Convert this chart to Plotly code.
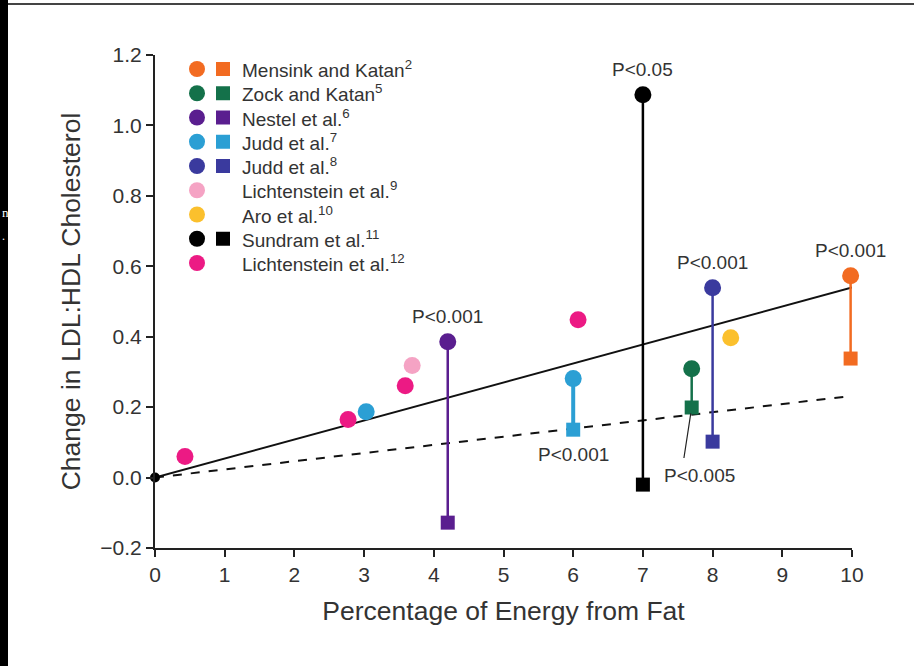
import plotly.graph_objects as go

# ---------------- data ----------------
study_names = ["Mensink and Katan", "Zock and Katan", "Nestel et al.", "Judd et al.",
               "Judd et al.", "Lichtenstein et al.", "Aro et al.", "Sundram et al.",
               "Lichtenstein et al."]
study_refs = ["2", "5", "6", "7", "8", "9", "10", "11", "12"]
study_colors = ["#f26b21", "#14714a", "#5a1e8f", "#2b9fd4", "#3a3a9e",
                "#f5a3c4", "#fbc02d", "#000000", "#ec1a84"]
has_square = [True, True, True, True, True, False, False, True, False]

# paired comparisons (circle = trans fat, square = comparison)
pair_study = [0, 1, 2, 3, 4, 7]
pair_x = [9.98, 7.7, 4.2, 6.0, 8.0, 7.0]
pair_circle_y = [0.573, 0.309, 0.386, 0.281, 0.539, 1.087]
pair_square_y = [0.338, 0.199, -0.128, 0.136, 0.102, -0.02]
pair_pvalue = ["P<0.001", "P<0.005", "P<0.001", "P<0.001", "P<0.001", "P<0.05"]

# single points
single_study = [3, 5, 6, 8, 8, 8, 8]
single_x = [3.03, 3.69, 8.26, 0.43, 2.77, 3.59, 6.07]
single_y = [0.187, 0.318, 0.397, 0.060, 0.165, 0.261, 0.448]

# regression lines
line_x = [0, 10]
solid_y = [0, 0.54]
dashed_y = [0, 0.232]

x_ticks = list(range(0, 11))
y_ticks = [-0.2, 0.0, 0.2, 0.4, 0.6, 0.8, 1.0, 1.2]

FONT = "Liberation Sans, Arial, sans-serif"
TXT = "#333333"

fig = go.Figure()

# regression lines
fig.add_trace(go.Scatter(x=line_x, y=dashed_y, mode="lines",
                         line=dict(color="#111111", width=2, dash="dash"),
                         hoverinfo="skip", showlegend=False, cliponaxis=False))
fig.add_trace(go.Scatter(x=line_x, y=solid_y, mode="lines",
                         line=dict(color="#111111", width=2),
                         hoverinfo="skip", showlegend=False, cliponaxis=False))

# paired vertical lines + markers
for i, s in enumerate(pair_study):
    c = study_colors[s]
    w = 4 if s == 3 else 2.5
    fig.add_trace(go.Scatter(x=[pair_x[i], pair_x[i]], y=[pair_circle_y[i], pair_square_y[i]],
                             mode="lines", line=dict(color=c, width=w),
                             showlegend=False, hoverinfo="skip", cliponaxis=False))
    fig.add_trace(go.Scatter(x=[pair_x[i]], y=[pair_square_y[i]], mode="markers",
                             marker=dict(symbol="square", size=14, color=c),
                             showlegend=False, cliponaxis=False))
    fig.add_trace(go.Scatter(x=[pair_x[i]], y=[pair_circle_y[i]], mode="markers",
                             marker=dict(symbol="circle", size=17, color=c),
                             showlegend=False, cliponaxis=False))

# single points
for s, x, y in zip(single_study, single_x, single_y):
    fig.add_trace(go.Scatter(x=[x], y=[y], mode="markers",
                             marker=dict(symbol="circle", size=17, color=study_colors[s]),
                             showlegend=False, cliponaxis=False))

# origin point
fig.add_trace(go.Scatter(x=[0], y=[0], mode="markers",
                         marker=dict(symbol="circle", size=10, color="#000000"),
                         showlegend=False, cliponaxis=False))

# P-value annotations
ann_font = dict(family=FONT, size=19, color=TXT)
for i, s in enumerate(pair_study):
    if s == 1:
        fig.add_annotation(x=pair_x[i], y=pair_square_y[i], xref="x", yref="y",
                           text="", showarrow=True, arrowhead=0, arrowwidth=1.2,
                           arrowcolor="#222222", ax=-8, ay=52, standoff=6)
        fig.add_annotation(x=pair_x[i], y=pair_square_y[i], xref="x", yref="y",
                           text=pair_pvalue[i], showarrow=False, font=ann_font,
                           xshift=8, yshift=-68)
    elif s == 3:
        fig.add_annotation(x=pair_x[i], y=pair_square_y[i], xref="x", yref="y",
                           text=pair_pvalue[i], showarrow=False, font=ann_font,
                           yshift=-25)
    else:
        fig.add_annotation(x=pair_x[i], y=pair_circle_y[i], xref="x", yref="y",
                           text=pair_pvalue[i], showarrow=False, font=ann_font,
                           yshift=25)

# ---------------- manual legend on an overlay pixel axis ----------------
PW, PH = 697, 493
leg_circle_x, leg_square_x, leg_text_x = 42, 68, 85
leg_top, leg_step = 479, 24.25
for k in range(len(study_names)):
    yk = leg_top - k * leg_step
    c = study_colors[k]
    fig.add_trace(go.Scatter(x=[leg_circle_x], y=[yk], xaxis="x2", yaxis="y2", mode="markers",
                             marker=dict(symbol="circle", size=16, color=c),
                             showlegend=False, hoverinfo="skip", cliponaxis=False))
    if has_square[k]:
        fig.add_trace(go.Scatter(x=[leg_square_x], y=[yk], xaxis="x2", yaxis="y2", mode="markers",
                                 marker=dict(symbol="square", size=14, color=c),
                                 showlegend=False, hoverinfo="skip", cliponaxis=False))
    fig.add_annotation(x=leg_text_x, y=yk, xref="x2", yref="y2", xanchor="left",
                       text=f"{study_names[k]}<sup>{study_refs[k]}</sup>",
                       showarrow=False, font=dict(family=FONT, size=19, color=TXT))

fig.update_layout(
    width=914, height=666,
    margin=dict(l=155, r=62, t=55, b=118),
    paper_bgcolor="black", plot_bgcolor="white",
    font=dict(family=FONT, color=TXT),
    showlegend=False,
    xaxis=dict(range=[0, 10], tickvals=x_ticks, showgrid=False, zeroline=False,
               showline=True, linecolor="#222222", linewidth=2,
               ticks="outside", ticklen=7, tickwidth=1.5, tickcolor="#222222",
               tickfont=dict(family=FONT, size=21, color=TXT),
               title=dict(text="Percentage of Energy from Fat", standoff=16,
                          font=dict(family=FONT, size=26.5, color=TXT))),
    yaxis=dict(range=[-0.2, 1.2], tickvals=y_ticks, tickformat=".1f", showgrid=False,
               zeroline=False, showline=True, linecolor="#222222", linewidth=2,
               ticks="outside", ticklen=7, tickwidth=1.5, tickcolor="#222222",
               tickfont=dict(family=FONT, size=21, color=TXT),
               title=dict(text="Change in LDL:HDL Cholesterol", standoff=12,
                          font=dict(family=FONT, size=26.5, color=TXT))),
    xaxis2=dict(range=[0, PW], overlaying="x", visible=False, fixedrange=True),
    yaxis2=dict(range=[0, PH], overlaying="y", visible=False, fixedrange=True),
)

# page background: white everywhere except the black strip on the far left
fig.add_shape(type="rect", xref="paper", yref="paper",
              x0=-147 / PW, x1=1.2, y0=-0.5, y1=1.5,
              fillcolor="white", line=dict(width=0), layer="below")
# gray line on top
fig.add_shape(type="line", xref="paper", yref="paper",
              x0=-147 / PW, x1=(PW + 62) / PW, y0=(PH + 51) / PH, y1=(PH + 51) / PH,
              line=dict(color="#444444", width=2))
fig.add_annotation(xref="paper", yref="paper", x=-155 / PW, y=(548 - 213) / PH,
                   xanchor="left", yanchor="middle", text="n", showarrow=False,
                   font=dict(family="Liberation Serif, serif", size=13, color="white"))
fig.add_annotation(xref="paper", yref="paper", x=-155 / PW, y=(548 - 236) / PH,
                   xanchor="left", yanchor="middle", text=".", showarrow=False,
                   font=dict(family="Liberation Serif, serif", size=12, color="white"))

fig.write_html("out.html")
